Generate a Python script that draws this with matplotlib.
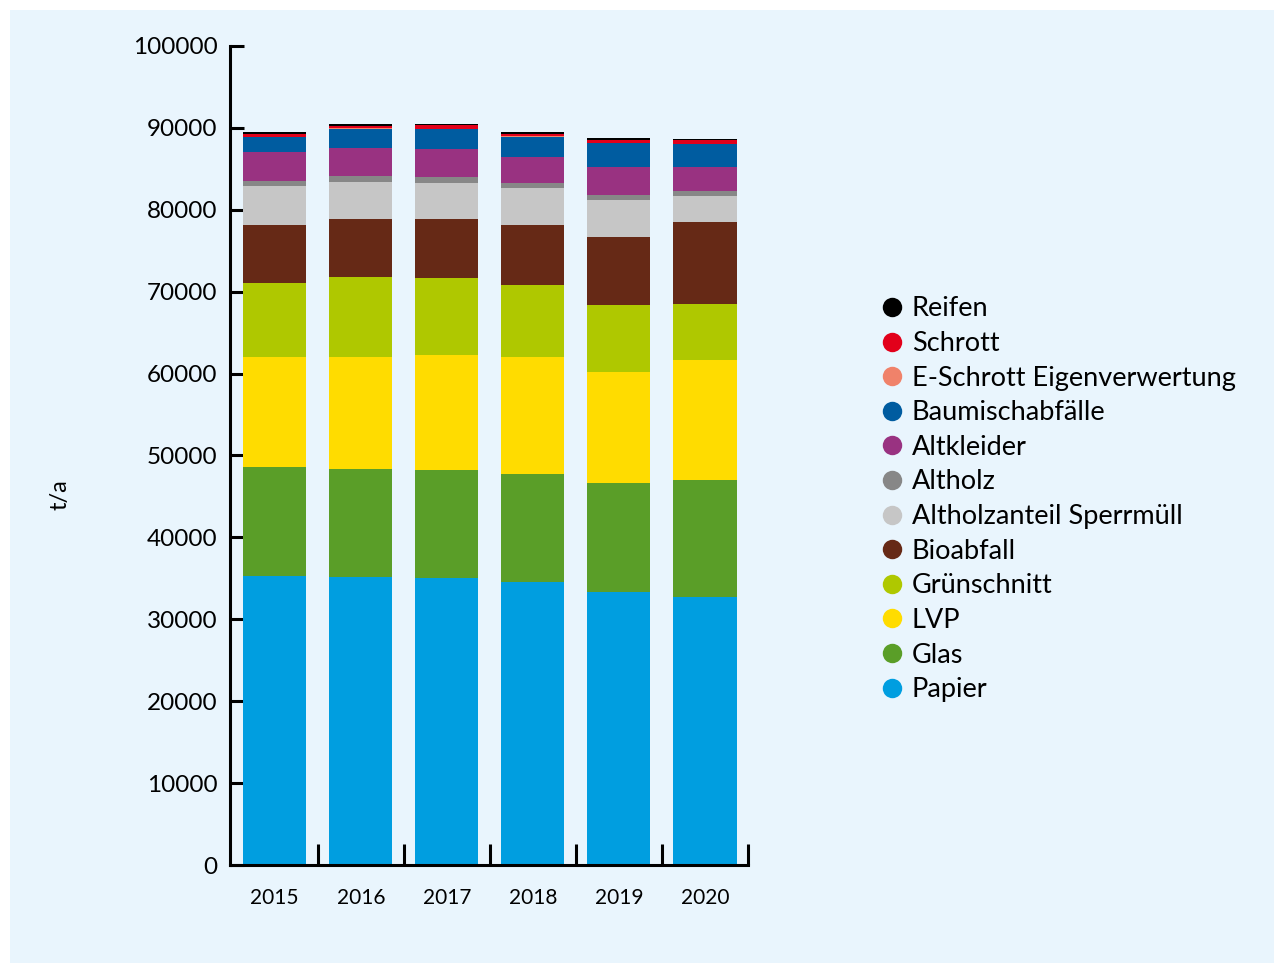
import matplotlib
matplotlib.use("Agg")
import matplotlib.pyplot as plt
from matplotlib.lines import Line2D
from matplotlib.patches import Rectangle
import numpy as np

years = ["2015", "2016", "2017", "2018", "2019", "2020"]
categories = ["Papier", "Glas", "LVP", "Grünschnitt", "Bioabfall", "Altholzanteil Sperrmüll",
              "Altholz", "Altkleider", "Baumischabfälle", "E-Schrott Eigenverwertung", "Schrott", "Reifen"]
papier = [35320, 35170, 35080, 34590, 33370, 32720]
glas = [13280, 13190, 13150, 13150, 13270, 14290]
lvp = [13430, 13680, 14040, 14290, 13550, 14650]
gruenschnitt = [9040, 9770, 9400, 8790, 8180, 6840]
bioabfall = [7080, 7080, 7200, 7330, 8300, 10010]
altholzanteil = [4760, 4520, 4400, 4520, 4520, 3180]
altholz = [610, 730, 730, 610, 610, 610]
altkleider = [3540, 3420, 3420, 3180, 3420, 2930]
baumisch = [1800, 2320, 2440, 2440, 2930, 2810]
eschrott = [50, 50, 50, 50, 50, 50]
schrott = [350, 320, 440, 320, 320, 440]
reifen = [250, 240, 120, 250, 240, 120]

series = [papier, glas, lvp, gruenschnitt, bioabfall, altholzanteil, altholz,
          altkleider, baumisch, eschrott, schrott, reifen]
colors = ["#009EE0", "#5A9E28", "#FFDC00", "#AFC800", "#662916", "#C6C6C6", "#878787",
          "#993281", "#005CA0", "#F0826A", "#E2001A", "#000000"]

plt.rcParams['font.family'] = ['Lato', 'DejaVu Sans']

fig = plt.figure(figsize=(12.84, 9.73), dpi=100)
fig.patch.set_facecolor("white")
bg = "#E9F5FD"
fig.patches.append(Rectangle((10/1284, 10/973), 1264/1284, 953/973, transform=fig.transFigure,
                             facecolor=bg, edgecolor="none", zorder=-10))

ax = fig.add_axes([230/1284, 108/973, 518/1284, 819/973])
ax.set_facecolor("none")
x = np.arange(len(years))
bottom = np.zeros(len(years))
for vals, c, lab in zip(series, colors, categories):
    ax.bar(x, vals, width=0.733, bottom=bottom, color=c, label=lab, zorder=2)
    bottom += np.array(vals)

ax.set_xlim(-0.52, 5.5)
ax.set_ylim(0, 100000)
ax.set_yticks(np.arange(0, 100001, 10000))
ax.set_yticklabels([str(v) for v in range(0, 100001, 10000)], fontsize=17.5)
ax.tick_params(axis='y', direction='in', length=10, width=2.2, pad=9)
ax.set_xticks(x + 0.5, minor=False)
ax.set_xticklabels([])
ax.tick_params(axis='x', direction='in', length=15, width=2.2)
for xi, yr in zip(x, years):
    ax.text(xi, -0.04, yr, transform=ax.get_xaxis_transform(), ha='center', va='center', fontsize=15)
for s in ["top", "right"]:
    ax.spines[s].set_visible(False)
for s in ["left", "bottom"]:
    ax.spines[s].set_linewidth(2.2)
ax.text(60/1284, 1 - 495/973, "t/a", transform=fig.transFigure, rotation=90,
        ha='center', va='center', fontsize=17)

handles = [Line2D([0], [0], marker='o', linestyle='none', markersize=14,
                  markerfacecolor=c, markeredgecolor='none') for c in colors]
leg = fig.legend(handles[::-1], categories[::-1], loc='upper left',
                 bbox_to_anchor=(851/1284, 1 - 272/973), frameon=False, fontsize=19.5,
                 handletextpad=0.15, labelspacing=0.355, handlelength=1.2)

fig.savefig("out.png", dpi=100, facecolor=fig.get_facecolor())
